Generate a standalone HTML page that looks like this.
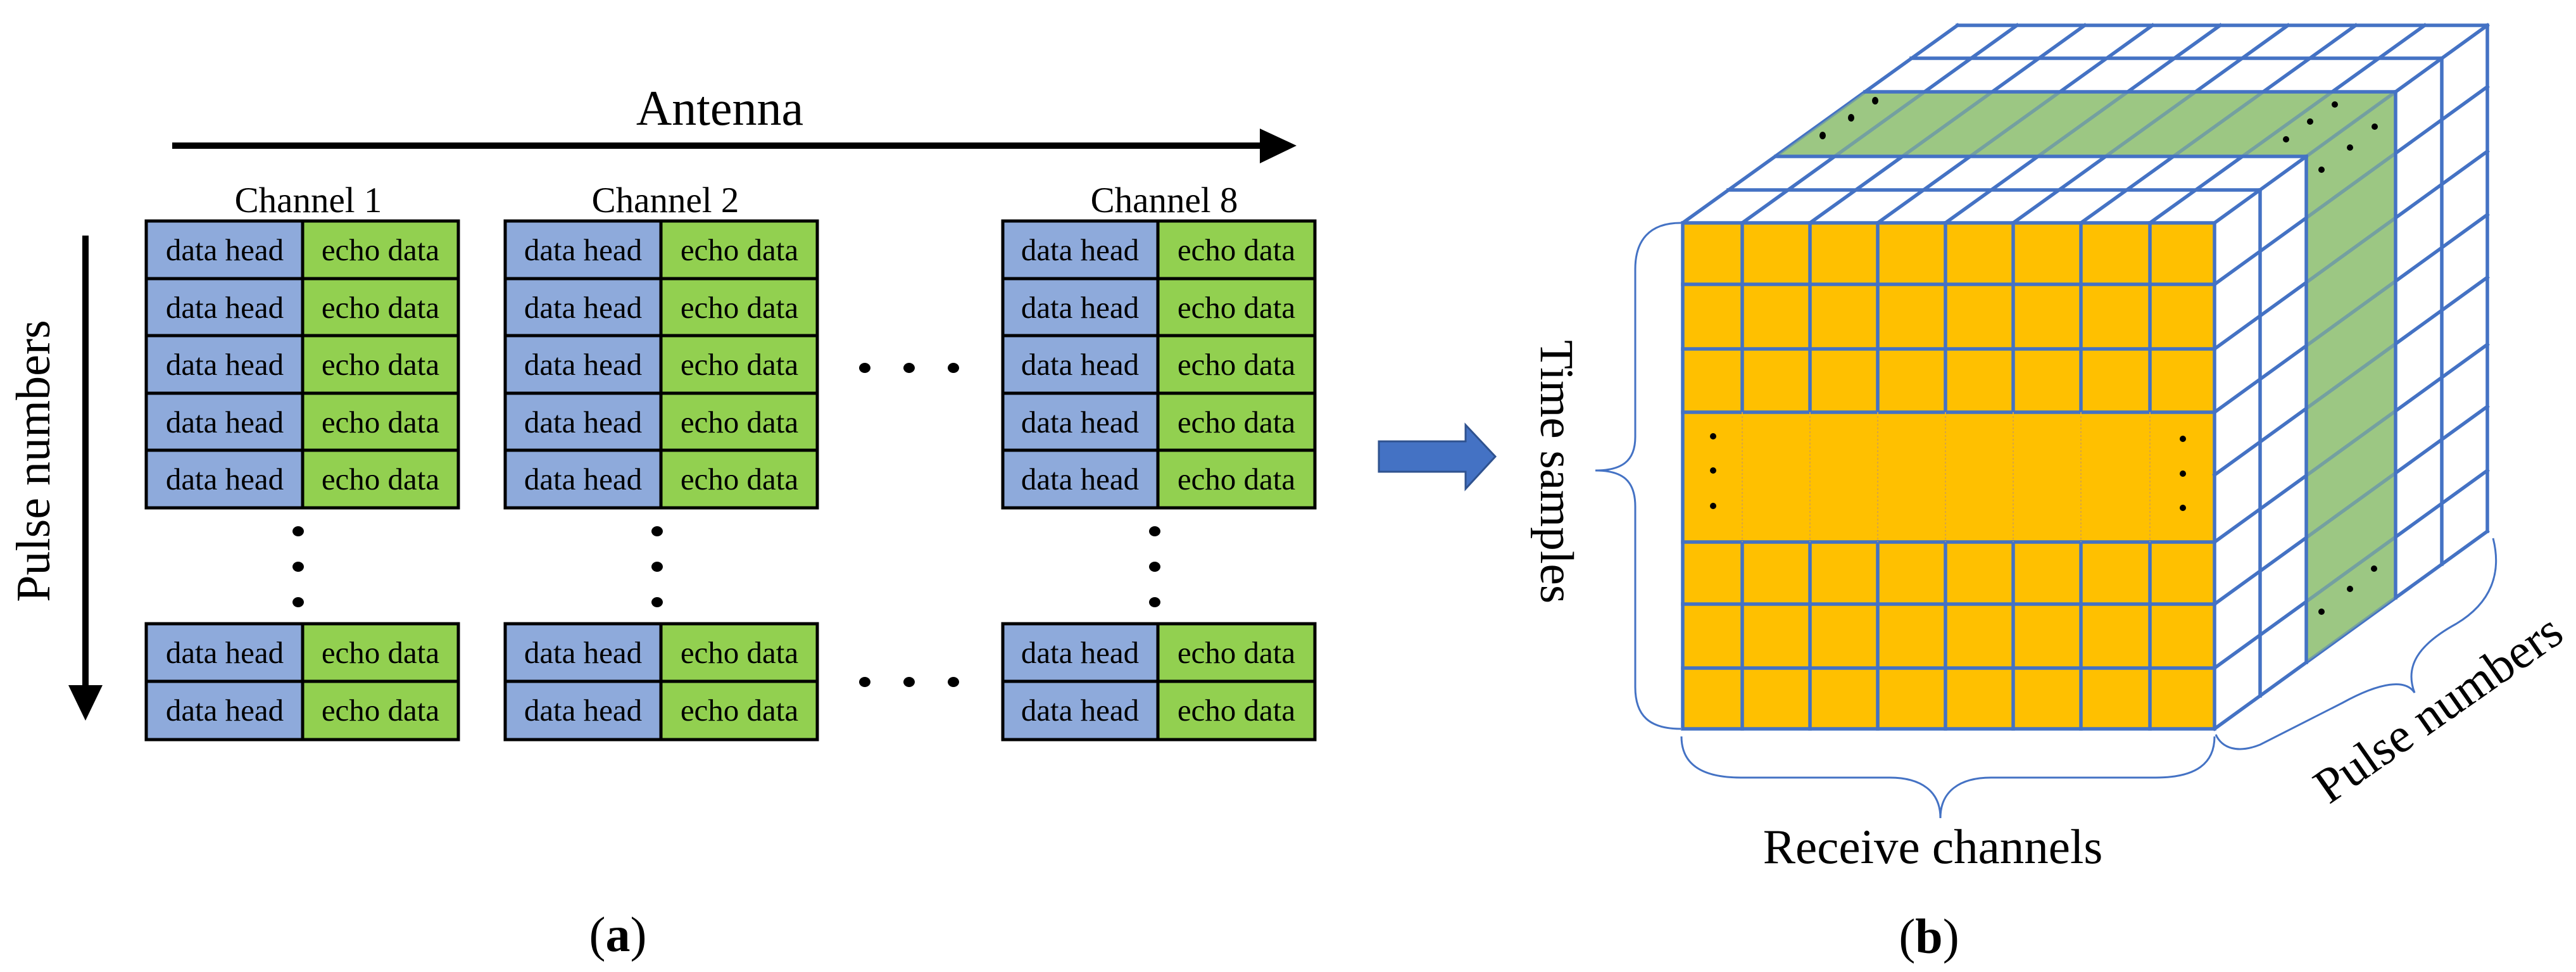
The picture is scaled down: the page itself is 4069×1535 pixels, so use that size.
<!DOCTYPE html>
<html><head><meta charset="utf-8"><style>
html,body{margin:0;padding:0;background:#fff;}
svg{display:block;}
text{font-family:"Liberation Serif",serif;fill:#000;}
.c{font-size:49px;text-anchor:middle;}
.b{fill:none;stroke:#4472c4;stroke-width:5.5;stroke-linecap:square;}
.br{fill:none;stroke:#4472c4;stroke-width:3;}
</style></head><body>
<svg width="4069" height="1535" viewBox="0 0 4069 1535" xmlns="http://www.w3.org/2000/svg">
<line x1="272" y1="230" x2="1995" y2="230" stroke="#000" stroke-width="10"/>
<polygon points="1990,203 2048,230 1990,258" fill="#000"/>
<text x="1137" y="197" font-size="78" text-anchor="middle">Antenna</text>
<text x="487" y="335" font-size="57" text-anchor="middle">Channel 1</text>
<text x="1051" y="335" font-size="57" text-anchor="middle">Channel 2</text>
<text x="1839" y="335" font-size="57" text-anchor="middle">Channel 8</text>
<line x1="135" y1="372" x2="135" y2="1090" stroke="#000" stroke-width="10"/>
<polygon points="108,1082 162,1082 135,1138" fill="#000"/>
<text transform="translate(78,728) rotate(-90)" font-size="76" text-anchor="middle">Pulse numbers</text>

<g stroke="#000" stroke-width="5">
<g transform="translate(231,349)"><rect x="0" y="0" width="247" height="91" fill="#8eaadb"/><rect x="247" y="0" width="246" height="91" fill="#92d050"/></g>
<g transform="translate(231,440)"><rect x="0" y="0" width="247" height="90" fill="#8eaadb"/><rect x="247" y="0" width="246" height="90" fill="#92d050"/></g>
<g transform="translate(231,530)"><rect x="0" y="0" width="247" height="91" fill="#8eaadb"/><rect x="247" y="0" width="246" height="91" fill="#92d050"/></g>
<g transform="translate(231,621)"><rect x="0" y="0" width="247" height="90" fill="#8eaadb"/><rect x="247" y="0" width="246" height="90" fill="#92d050"/></g>
<g transform="translate(231,711)"><rect x="0" y="0" width="247" height="91" fill="#8eaadb"/><rect x="247" y="0" width="246" height="91" fill="#92d050"/></g>
<g transform="translate(231,985)"><rect x="0" y="0" width="247" height="91" fill="#8eaadb"/><rect x="247" y="0" width="246" height="91" fill="#92d050"/></g>
<g transform="translate(231,1076)"><rect x="0" y="0" width="247" height="92" fill="#8eaadb"/><rect x="247" y="0" width="246" height="92" fill="#92d050"/></g>

<g transform="translate(798,349)"><rect x="0" y="0" width="246" height="91" fill="#8eaadb"/><rect x="246" y="0" width="247" height="91" fill="#92d050"/></g>
<g transform="translate(798,440)"><rect x="0" y="0" width="246" height="90" fill="#8eaadb"/><rect x="246" y="0" width="247" height="90" fill="#92d050"/></g>
<g transform="translate(798,530)"><rect x="0" y="0" width="246" height="91" fill="#8eaadb"/><rect x="246" y="0" width="247" height="91" fill="#92d050"/></g>
<g transform="translate(798,621)"><rect x="0" y="0" width="246" height="90" fill="#8eaadb"/><rect x="246" y="0" width="247" height="90" fill="#92d050"/></g>
<g transform="translate(798,711)"><rect x="0" y="0" width="246" height="91" fill="#8eaadb"/><rect x="246" y="0" width="247" height="91" fill="#92d050"/></g>
<g transform="translate(798,985)"><rect x="0" y="0" width="246" height="91" fill="#8eaadb"/><rect x="246" y="0" width="247" height="91" fill="#92d050"/></g>
<g transform="translate(798,1076)"><rect x="0" y="0" width="246" height="92" fill="#8eaadb"/><rect x="246" y="0" width="247" height="92" fill="#92d050"/></g>

<g transform="translate(1584,349)"><rect x="0" y="0" width="245" height="91" fill="#8eaadb"/><rect x="245" y="0" width="248" height="91" fill="#92d050"/></g>
<g transform="translate(1584,440)"><rect x="0" y="0" width="245" height="90" fill="#8eaadb"/><rect x="245" y="0" width="248" height="90" fill="#92d050"/></g>
<g transform="translate(1584,530)"><rect x="0" y="0" width="245" height="91" fill="#8eaadb"/><rect x="245" y="0" width="248" height="91" fill="#92d050"/></g>
<g transform="translate(1584,621)"><rect x="0" y="0" width="245" height="90" fill="#8eaadb"/><rect x="245" y="0" width="248" height="90" fill="#92d050"/></g>
<g transform="translate(1584,711)"><rect x="0" y="0" width="245" height="91" fill="#8eaadb"/><rect x="245" y="0" width="248" height="91" fill="#92d050"/></g>
<g transform="translate(1584,985)"><rect x="0" y="0" width="245" height="91" fill="#8eaadb"/><rect x="245" y="0" width="248" height="91" fill="#92d050"/></g>
<g transform="translate(1584,1076)"><rect x="0" y="0" width="245" height="92" fill="#8eaadb"/><rect x="245" y="0" width="248" height="92" fill="#92d050"/></g>
</g>

<g class="c">
<text x="355" y="411">data head</text><text x="601" y="411">echo data</text>
<text x="355" y="502">data head</text><text x="601" y="502">echo data</text>
<text x="355" y="592">data head</text><text x="601" y="592">echo data</text>
<text x="355" y="683">data head</text><text x="601" y="683">echo data</text>
<text x="355" y="773">data head</text><text x="601" y="773">echo data</text>
<text x="355" y="1047">data head</text><text x="601" y="1047">echo data</text>
<text x="355" y="1138">data head</text><text x="601" y="1138">echo data</text>

<text x="921" y="411">data head</text><text x="1168" y="411">echo data</text>
<text x="921" y="502">data head</text><text x="1168" y="502">echo data</text>
<text x="921" y="592">data head</text><text x="1168" y="592">echo data</text>
<text x="921" y="683">data head</text><text x="1168" y="683">echo data</text>
<text x="921" y="773">data head</text><text x="1168" y="773">echo data</text>
<text x="921" y="1047">data head</text><text x="1168" y="1047">echo data</text>
<text x="921" y="1138">data head</text><text x="1168" y="1138">echo data</text>

<text x="1706" y="411">data head</text><text x="1953" y="411">echo data</text>
<text x="1706" y="502">data head</text><text x="1953" y="502">echo data</text>
<text x="1706" y="592">data head</text><text x="1953" y="592">echo data</text>
<text x="1706" y="683">data head</text><text x="1953" y="683">echo data</text>
<text x="1706" y="773">data head</text><text x="1953" y="773">echo data</text>
<text x="1706" y="1047">data head</text><text x="1953" y="1047">echo data</text>
<text x="1706" y="1138">data head</text><text x="1953" y="1138">echo data</text>
</g>

<g fill="#000">
<ellipse cx="471" cy="839" rx="9" ry="8"/><ellipse cx="471" cy="895" rx="9" ry="8"/><ellipse cx="471" cy="951" rx="9" ry="8"/>
<ellipse cx="1038" cy="839" rx="9" ry="8"/><ellipse cx="1038" cy="895" rx="9" ry="8"/><ellipse cx="1038" cy="951" rx="9" ry="8"/>
<ellipse cx="1824" cy="839" rx="9" ry="8"/><ellipse cx="1824" cy="895" rx="9" ry="8"/><ellipse cx="1824" cy="951" rx="9" ry="8"/>
<ellipse cx="1366" cy="581" rx="9" ry="8"/><ellipse cx="1436" cy="581" rx="9" ry="8"/><ellipse cx="1506" cy="581" rx="9" ry="8"/>
<ellipse cx="1366" cy="1077" rx="9" ry="8"/><ellipse cx="1436" cy="1077" rx="9" ry="8"/><ellipse cx="1506" cy="1077" rx="9" ry="8"/>
</g>
<text x="976" y="1502" font-size="78" text-anchor="middle">(<tspan font-weight="bold">a</tspan>)</text>

<polygon points="2178,697 2315,697 2315,671 2362,721 2315,772 2315,745 2178,745" fill="#4472c4" stroke="#2f528f" stroke-width="3"/>

<rect x="2658" y="352" width="840" height="799" fill="#ffc000"/>
<polygon points="2805,247 2946,145 3784,145 3643,247" fill="#9cc784"/>
<polygon points="3643,247 3784,145 3784,944 3643,1046" fill="#9cc784"/>
<g class="b">
<line x1="2730" y1="300" x2="3570" y2="300"/>
<line x1="3092" y1="40" x2="3929" y2="40"/>
<line x1="3019" y1="92" x2="3857" y2="92"/>
</g>
<g class="b">
<line x1="2658" y1="352" x2="3092" y2="40"/>
<line x1="2752" y1="352" x2="3186" y2="40"/>
<line x1="2859" y1="352" x2="3293" y2="40"/>
<line x1="2966" y1="352" x2="3400" y2="40"/>
<line x1="3073" y1="352" x2="3507" y2="40"/>
<line x1="3180" y1="352" x2="3614" y2="40"/>
<line x1="3287" y1="352" x2="3721" y2="40"/>
<line x1="3396" y1="352" x2="3830" y2="40"/>
<line x1="3498" y1="352" x2="3929" y2="40"/>
</g>
<g class="b">
<line x1="3498" y1="449" x2="3929" y2="137"/>
<line x1="3498" y1="551" x2="3929" y2="239"/>
<line x1="3498" y1="651" x2="3929" y2="339"/>
<line x1="3498" y1="750" x2="3929" y2="438"/>
<line x1="3498" y1="856" x2="3929" y2="544"/>
<line x1="3498" y1="954" x2="3929" y2="642"/>
<line x1="3498" y1="1055" x2="3929" y2="743"/>
<line x1="3498" y1="1151" x2="3929" y2="839"/>
</g>
<g class="b">
<line x1="3570" y1="300" x2="3570" y2="1099"/>
<line x1="3857" y1="92" x2="3857" y2="891"/>
<line x1="3929" y1="40" x2="3929" y2="839"/>
</g>
<polygon points="2805,247 2946,145 3784,145 3643,247" fill="#9cc784" opacity="0.55"/>
<polygon points="3643,247 3784,145 3784,944 3643,1046" fill="#9cc784" opacity="0.55"/>
<g class="b">
<line x1="2805" y1="247" x2="3643" y2="247"/>
<line x1="2946" y1="145" x2="3784" y2="145"/>
<line x1="3643" y1="247" x2="3643" y2="1046"/>
<line x1="3784" y1="145" x2="3784" y2="944"/>
</g>
<g class="b">
<rect x="2658" y="352" width="840" height="799"/>
<line x1="2658" y1="449" x2="3498" y2="449"/>
<line x1="2658" y1="551" x2="3498" y2="551"/>
<line x1="2658" y1="651" x2="3498" y2="651"/>
<line x1="2658" y1="856" x2="3498" y2="856"/>
<line x1="2658" y1="954" x2="3498" y2="954"/>
<line x1="2658" y1="1055" x2="3498" y2="1055"/>
<line x1="2752" y1="352" x2="2752" y2="651"/><line x1="2752" y1="856" x2="2752" y2="1151"/>
<line x1="2859" y1="352" x2="2859" y2="651"/><line x1="2859" y1="856" x2="2859" y2="1151"/>
<line x1="2966" y1="352" x2="2966" y2="651"/><line x1="2966" y1="856" x2="2966" y2="1151"/>
<line x1="3073" y1="352" x2="3073" y2="651"/><line x1="3073" y1="856" x2="3073" y2="1151"/>
<line x1="3180" y1="352" x2="3180" y2="651"/><line x1="3180" y1="856" x2="3180" y2="1151"/>
<line x1="3287" y1="352" x2="3287" y2="651"/><line x1="3287" y1="856" x2="3287" y2="1151"/>
<line x1="3396" y1="352" x2="3396" y2="651"/><line x1="3396" y1="856" x2="3396" y2="1151"/>
</g>
<g stroke="#d9a640" stroke-width="2" stroke-dasharray="3,3">
<line x1="2752" y1="651" x2="2752" y2="856"/><line x1="2859" y1="651" x2="2859" y2="856"/>
<line x1="2966" y1="651" x2="2966" y2="856"/><line x1="3073" y1="651" x2="3073" y2="856"/>
<line x1="3180" y1="651" x2="3180" y2="856"/><line x1="3287" y1="651" x2="3287" y2="856"/>
<line x1="3396" y1="651" x2="3396" y2="856"/>
</g>
<g fill="#000">
<circle cx="2706" cy="689" r="5"/><circle cx="2706" cy="743" r="5"/><circle cx="2706" cy="799" r="5"/>
<circle cx="3448" cy="693" r="5"/><circle cx="3448" cy="748" r="5"/><circle cx="3448" cy="802" r="5"/>
<ellipse cx="2962" cy="159" rx="5" ry="6"/><ellipse cx="2924" cy="186" rx="5" ry="6"/><ellipse cx="2879" cy="214" rx="5" ry="6"/>
<circle cx="3688" cy="165" r="5"/><circle cx="3649" cy="192" r="5"/><circle cx="3611" cy="220" r="5"/>
<circle cx="3751" cy="200" r="5"/><circle cx="3712" cy="233" r="5"/><circle cx="3667" cy="268" r="5"/>
<circle cx="3750" cy="898" r="5"/><circle cx="3712" cy="930" r="5"/><circle cx="3667" cy="966" r="5"/>
</g>
<path class="br" d="M2655,352 C2605,352 2583,380 2583,425 L2583,690 C2583,728 2562,743 2520,743 C2562,743 2583,758 2583,800 L2583,1085 C2583,1130 2605,1151 2655,1151"/>
<path class="br" d="M2656,1163 C2656,1205 2685,1228 2750,1228 L2985,1228 C3035,1228 3065,1250 3065,1292 C3065,1250 3095,1228 3145,1228 L3405,1228 C3470,1228 3498,1205 3498,1163"/>
<path class="br" d="M3500,1160 C3510,1182 3535,1190 3570,1176 L3700,1110 C3760,1077 3800,1072 3814,1094 C3798,1052 3820,1018 3880,985 C3935,952 3952,905 3938,850"/>
<text transform="translate(2434,745) rotate(90)" font-size="75" text-anchor="middle">Time samples</text>
<text x="3053" y="1363" font-size="77" text-anchor="middle">Receive channels</text>
<text transform="translate(3866,1140) rotate(-35)" font-size="78" text-anchor="middle">Pulse numbers</text>
<text x="3047" y="1505" font-size="78" text-anchor="middle">(<tspan font-weight="bold">b</tspan>)</text>
</svg>
</body></html>
